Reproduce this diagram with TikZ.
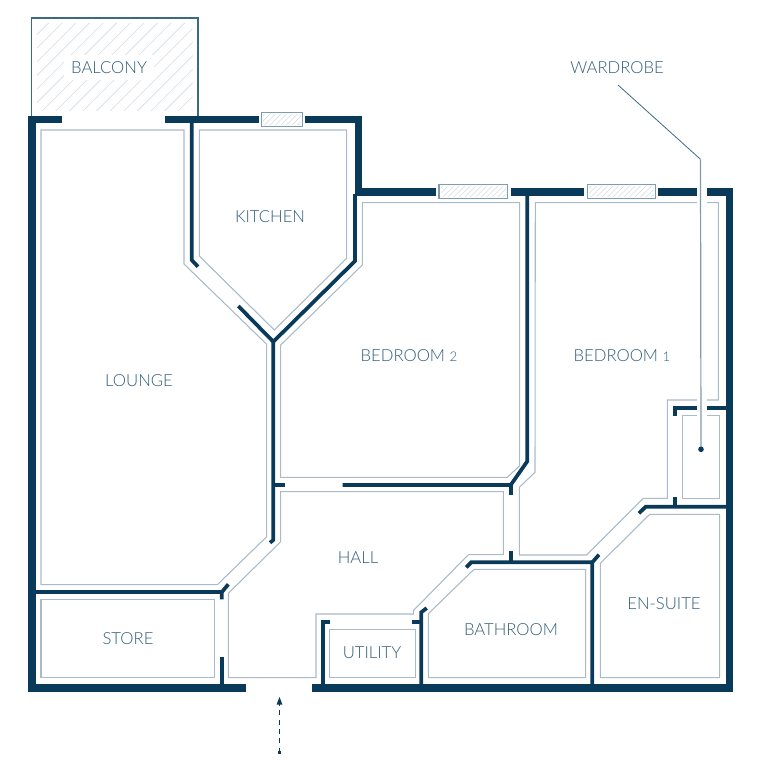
\documentclass[tikz,border=0pt]{standalone}
\usepackage{fontspec}
\setmainfont{Lato Light}
\definecolor{wallc}{HTML}{0A3A5A}
\definecolor{roomc}{HTML}{A9BAC8}
\definecolor{textc}{HTML}{2F5C78}
\definecolor{hatchc}{HTML}{D3DBE1}
\definecolor{framec}{HTML}{7F9BAE}
\definecolor{balc}{HTML}{3B6A85}
\newcommand{\smalldigit}[1]{{\fontsize{10}{12}\selectfont #1}}
\tikzset{
  thickwall/.style={draw=wallc,line width=5.5pt,miter limit=10},
  thinwall/.style={draw=wallc,line width=2.8pt,miter limit=10},
  roomline/.style={draw=roomc,line width=0.8pt},
  hatchline/.style={draw=hatchc,line width=0.45pt},
  lbl/.style={text=textc,font=\fontsize{12.5}{14}\selectfont,inner sep=0pt},
  windowbox/.style={draw=framec,line width=0.8pt,fill=white},
}
\begin{document}
\begin{tikzpicture}[x=0.75pt,y=-0.75pt]
\useasboundingbox (0,0) rectangle (768,768);
% balcony
\draw[draw=balc,line width=0.8pt] (31.7,116) -- (31.7,18) -- (198,18) -- (198,116);
\begin{scope}
\clip (37,23) rectangle (192.7,110);
\foreach \k in {58,71.6,...,310}{\draw[hatchline] (\k-120,120) -- (\k,0);}
\end{scope}
% windows
\foreach \xa/\xb/\ya/\yb in {261.2/302.7/112.3/126.3, 439/507.7/184.3/198.7, 587.3/655.7/184.3/198.7}{
  \draw[windowbox] (\xa,\ya) rectangle (\xb,\yb);
  \begin{scope}
    \clip (\xa+2,\ya+2) rectangle (\xb-2,\yb-2);
    \foreach \k in {0,5.5,...,110}{\draw[hatchline] (\xa+\k-20,\yb) -- (\xa+\k-20+\yb-\ya,\ya);}
  \end{scope}
}
% room outlines
\draw[roomline] (41,130) -- (184,130) -- (184,264) -- (266.7,344.3) -- (266.7,536.7) -- (217.3,584.7) -- (41,584.7) -- cycle;
\draw[roomline] (199.3,130) -- (346.7,130) -- (346.7,258.3) -- (274.3,330) -- (199.3,256) -- cycle;
\draw[roomline] (280.7,345) -- (362.3,265) -- (362.3,202.7) -- (519.7,202.7) -- (519.7,465.7) -- (507.3,477.3) -- (280.7,477.3) -- cycle;
\draw[roomline] (535.3,202.7) -- (718.3,202.7) -- (718.3,400) -- (667.3,400) -- (667.3,498.3) -- (643.3,498.3) -- (586.7,555) -- (519.3,555) -- (519.3,487.3) -- (535,472.3) -- cycle;
\draw[roomline] (682.3,415.7) -- (719.7,415.7) -- (719.7,498.3) -- (682.3,498.3) -- cycle;
\draw[roomline] (649.7,514.3) -- (719.7,514.3) -- (719.7,677.7) -- (600.3,677.7) -- (600.3,563.3) -- cycle;
\draw[roomline] (474,569.3) -- (585.7,569.3) -- (585.7,677.7) -- (428.3,677.7) -- (428.3,613.7) -- cycle;
\draw[roomline] (329.3,629.3) rectangle (415.7,677.7);
\draw[roomline] (41,599.3) rectangle (214.3,677.7);
\draw[roomline] (280.7,491.7) -- (503.3,491.7) -- (503.3,554.7) -- (468.3,554.7) -- (413.3,610.7) -- (413.3,614) -- (316,614) -- (316,677.7) -- (228.3,677.7) -- (228.3,593.3) -- (280.7,541.7) -- cycle;
% outer walls
\draw[thickwall] (62,119.6) -- (32,119.6) -- (32,688) -- (245.7,688);
\draw[thickwall] (312,688) -- (729.8,688) -- (729.8,192) -- (707.3,192);
\draw[thickwall] (696.7,192) -- (658,192);
\draw[thickwall] (584,192) -- (511.3,192);
\draw[thickwall] (436,192) -- (355,192);
\draw[thickwall] (165,119.6) -- (259,119.6);
\draw[thickwall] (305,119.6) -- (358.3,119.6) -- (358.3,195);
% inner walls
\draw[thinwall] (191.7,122) -- (191.7,260) -- (198,266.7);
\draw[thinwall] (238.3,306) -- (273.3,341.7) -- (355,261) -- (355,194);
\draw[thinwall] (273.3,341) -- (273.3,540) -- (270,542.7);
\draw[thinwall] (273.3,485) -- (285.3,485);
\draw[thinwall] (342.7,485) -- (510.7,485) -- (527.3,461.3) -- (527.3,194);
\draw[thinwall] (510.7,485) -- (510.7,494.7);
\draw[thinwall] (510.7,550.7) -- (510.7,562.3);
\draw[thinwall] (466.3,567.3) -- (471.3,562.3) -- (592.3,562.3) -- (592.3,686);
\draw[thinwall] (592.3,562.3) -- (599,554.7);
\draw[thinwall] (639,513.3) -- (645.7,506.7) -- (727,506.7);
\draw[thinwall] (675,496.7) -- (675,506.7);
\draw[thinwall] (675,415.7) -- (675,408) -- (696.7,408);
\draw[thinwall] (705.7,408) -- (727,408);
\draw[thinwall] (421.3,686) -- (421.3,612.3) -- (426.7,608);
\draw[thinwall] (412.3,621.7) -- (421.3,621.7);
\draw[thinwall] (323,686) -- (323,621.7) -- (330,621.7);
\draw[thinwall] (34,592.3) -- (221.7,592.3);
\draw[thinwall] (221.7,599.3) -- (221.7,592.3) -- (228.3,584.3);
\draw[thinwall] (221.7,656.7) -- (221.7,686);
% labels
\node[lbl,fill=white,inner sep=5pt] (balcony) at (109,67.5) {BALCONY};
\node[lbl] (kitchen) at (270,217) {KITCHEN};
\node[lbl] (lounge) at (139,381) {LOUNGE};
\node[lbl] (bed2) at (409,356) {BEDROOM \smalldigit{2}};
\node[lbl] (bed1) at (622,356) {BEDROOM \smalldigit{1}};
\node[lbl] (hall) at (358,558) {HALL};
\node[lbl] (store) at (128,639) {STORE};
\node[lbl] (utility) at (372,653) {UTILITY};
\node[lbl] (bathroom) at (511,630) {BATHROOM};
\node[lbl] (ensuite) at (664,604) {EN-SUITE};
\node[lbl] (wardrobe) at (617,68) {WARDROBE};
% wardrobe leader
\coordinate (lstart) at (618,85);
\coordinate (lbend) at (700.5,159.3);
\coordinate (ldot) at (701,449.3);
\draw[white,line width=7.5pt] (701.5,198) -- (701.5,421);
\draw[draw=balc,line width=0.6pt] (lstart) -- (lbend);
\draw[draw=framec,line width=0.9pt] (lbend) -- (ldot);
\fill[wallc] (ldot) circle (2.8);
% entry arrow
\coordinate (estart) at (279.5,752.7);
\coordinate (etip) at (279.5,697);
\draw[wallc,line width=0.7pt,dash pattern=on 3.8pt off 3.2pt] (estart) -- (279.5,704);
\fill[wallc] (278,751.2) rectangle (281,754.2);
\fill[wallc] (etip) -- (282.4,704.5) -- (276.6,704.5) -- cycle;
\end{tikzpicture}
\end{document}
